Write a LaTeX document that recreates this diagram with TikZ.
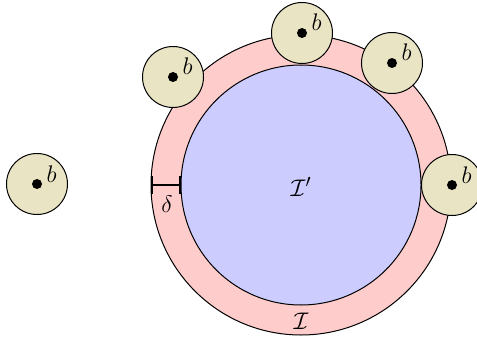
\documentclass[tikz,border=0pt]{standalone}
\usetikzlibrary{arrows.meta}
\definecolor{ballfill}{RGB}{233,228,196}
\definecolor{bandfill}{RGB}{255,204,204}
\definecolor{corefill}{RGB}{204,204,255}
\begin{document}
\begin{tikzpicture}[x=0.6pt,y=-0.6pt,
  every node/.style={font=\fontsize{15}{18}\selectfont},
  ball/.style={circle,draw=black,fill=ballfill,line width=0.6pt,minimum size=36.6pt,inner sep=0pt},
  bdot/.style={circle,fill=black,minimum size=6pt,inner sep=0pt},
  blabel/.style={anchor=base west,inner sep=0pt}]
\useasboundingbox (0,0) rectangle (477,339);
\node[circle,draw=black,fill=bandfill,line width=0.6pt,minimum size=180pt,inner sep=0pt] (outer) at (301,185) {};
\node[circle,draw=black,fill=corefill,line width=0.6pt,minimum size=144pt,inner sep=0pt] (inner) at (301,185) {};
\node (Ip) at (301,187) {$\mathcal{I}'$};
\node (I) at (301,321) {$\mathcal{I}$};
\draw[line width=1.2pt,{Bar[width=11pt]}-{Bar[width=11pt]}] (outer.west) -- (inner.west);
\node (delta) at (167,204) {$\delta$};
\foreach \n/\cx/\cy in {b1/37/184, b2/173/77, b3/302/33, b4/392/63, b5/452/185}{
  \node[ball] (\n) at (\cx,\cy) {};
  \node[bdot] (\n d) at (\n) {};
  \node[blabel] (\n l) at ([xshift=2.4pt,yshift=1.2pt]\n d.east) {$b$};
}
\end{tikzpicture}
\end{document}
